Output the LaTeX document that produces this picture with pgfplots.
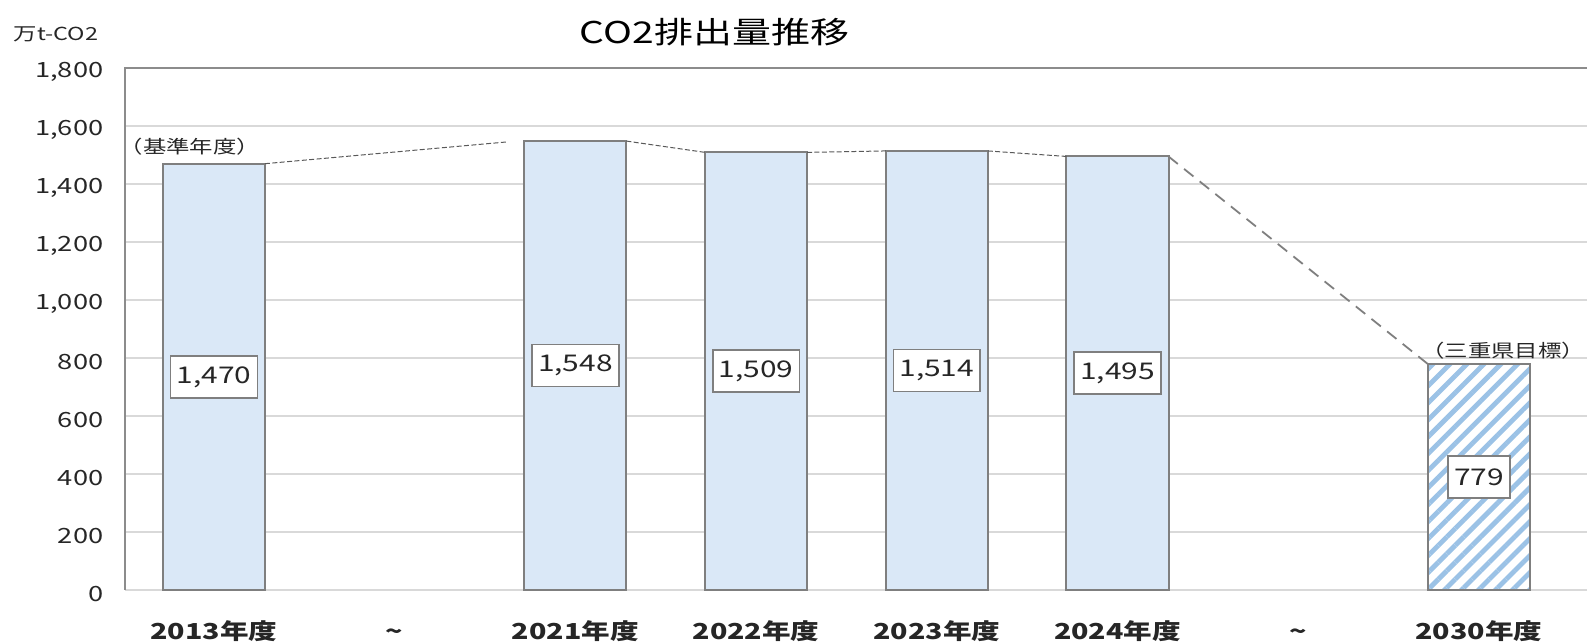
\documentclass[border=0pt]{standalone}
\usepackage{pgfplots}
\pgfplotsset{compat=1.18}
\usepackage{pgfplotstable}
\usetikzlibrary{patterns.meta}
\usepackage{fontspec}
\setmainfont{Noto Sans CJK JP}[FakeStretch=1.3]
\definecolor{barblue}{RGB}{218,232,247}
\definecolor{stripeblue}{RGB}{155,194,230}
\definecolor{edgegray}{RGB}{127,127,127}
\definecolor{gridgray}{RGB}{217,217,217}
\definecolor{axgray}{RGB}{140,140,140}
\definecolor{txt}{RGB}{38,38,38}
\pgfplotstableread{
x v
0 1470
2 1548
3 1509
4 1514
5 1495
}\bars
\pgfplotstableread{
x v lab
0 1470 {1,470}
2 1548 {1,548}
3 1509 {1,509}
4 1514 {1,514}
5 1495 {1,495}
7 779 {779}
}\labs
\begin{document}
\begin{tikzpicture}
\begin{axis}[
  x=90.35pt, y=0.145pt,
  xmin=-0.49, xmax=7.7, ymin=0, ymax=1800,
  axis line style={draw=none},
  ytick={0,200,...,1800},
  ymajorgrids, grid style={draw=gridgray, line width=0.8pt},
  xtick={0,...,7},
  xticklabels={2013年度,\textasciitilde,2021年度,2022年度,2023年度,2024年度,\textasciitilde,2030年度},
  major tick length=0pt,
  tick style={draw=none},
  scaled y ticks=false,
  yticklabel style={font=\fontsize{10.5}{12}\selectfont, text=txt, anchor=east, xshift=-7.5pt, yshift=-2pt,
    /pgf/number format/1000 sep={,}, /pgf/number format/assume math mode=true},
  xticklabel style={font=\bfseries\fontsize{11}{13}\selectfont, text=txt, anchor=base, yshift=-25pt},
  clip=false,
]
\coordinate (O) at (axis cs:0,0);
\addplot[ybar, bar width=0.565, bar shift=0pt, fill=barblue, draw=edgegray, line width=1pt]
  table[x=x, y=v] {\bars};
\addplot[ybar, bar width=0.565, bar shift=0pt, fill=white, draw=edgegray, line width=1pt,
  postaction={pattern={Lines[angle=45, distance=6pt, line width=2.4pt]}, pattern color=stripeblue}]
  coordinates {(7,779)};
\addplot[ybar, bar width=0.565, bar shift=0pt, fill=none, draw=edgegray, line width=1pt]
  coordinates {(7,779)};
% connector lines
\addplot[draw=edgegray!70!black, line width=0.5pt, dash pattern=on 2.5pt off 1.2pt] coordinates {(0.282,1470) (1.62,1545)};
\addplot[draw=edgegray!70!black, line width=0.5pt, dash pattern=on 2.5pt off 1.2pt] coordinates {(2.282,1548) (2.718,1509)};
\addplot[draw=edgegray!70!black, line width=0.5pt, dash pattern=on 2.5pt off 1.2pt] coordinates {(3.282,1509) (3.718,1514)};
\addplot[draw=edgegray!70!black, line width=0.5pt, dash pattern=on 2.5pt off 1.2pt] coordinates {(4.282,1514) (4.718,1495)};
\addplot[draw=edgegray, line width=0.9pt, dash pattern=on 6pt off 4pt] coordinates {(5.282,1495) (6.718,779)};
% value labels
\addplot[draw=none, mark=none, nodes near coords, point meta=explicit symbolic,
  every node near coord/.style={anchor=center, draw=edgegray, fill=white, line width=0.8pt,
    inner xsep=3pt, inner ysep=0pt, minimum height=21pt, text=txt, font=\fontsize{11.5}{14}\selectfont}]
  table[x=x, y expr=\thisrow{v}/2, meta=lab] {\labs};
% annotations
\node[font=\fontsize{15}{18}\selectfont, text=black] at (axis cs:2.77,1924) {CO2排出量推移};
\node[font=\fontsize{9}{10}\selectfont, text=txt] at (axis cs:-0.874,1917) {万t-CO2};
\node[font=\fontsize{9}{10}\selectfont, text=txt] at (axis cs:-0.133,1529) {（基準年度）};
\node[font=\fontsize{9}{10}\selectfont, text=txt, anchor=east, inner xsep=0pt] at (axis cs:7.59,824) {（三重県目標）};
\end{axis}
\draw[axgray, line width=0.9pt] (O) ++(-44.3pt,0) -- ++(0,261pt) -- ++(800pt,0);
\pgfresetboundingbox
\path[use as bounding box] ([shift={(-107pt,-26.5pt)}]O) rectangle ([shift={(686.5pt,295pt)}]O);
\end{tikzpicture}
\end{document}
